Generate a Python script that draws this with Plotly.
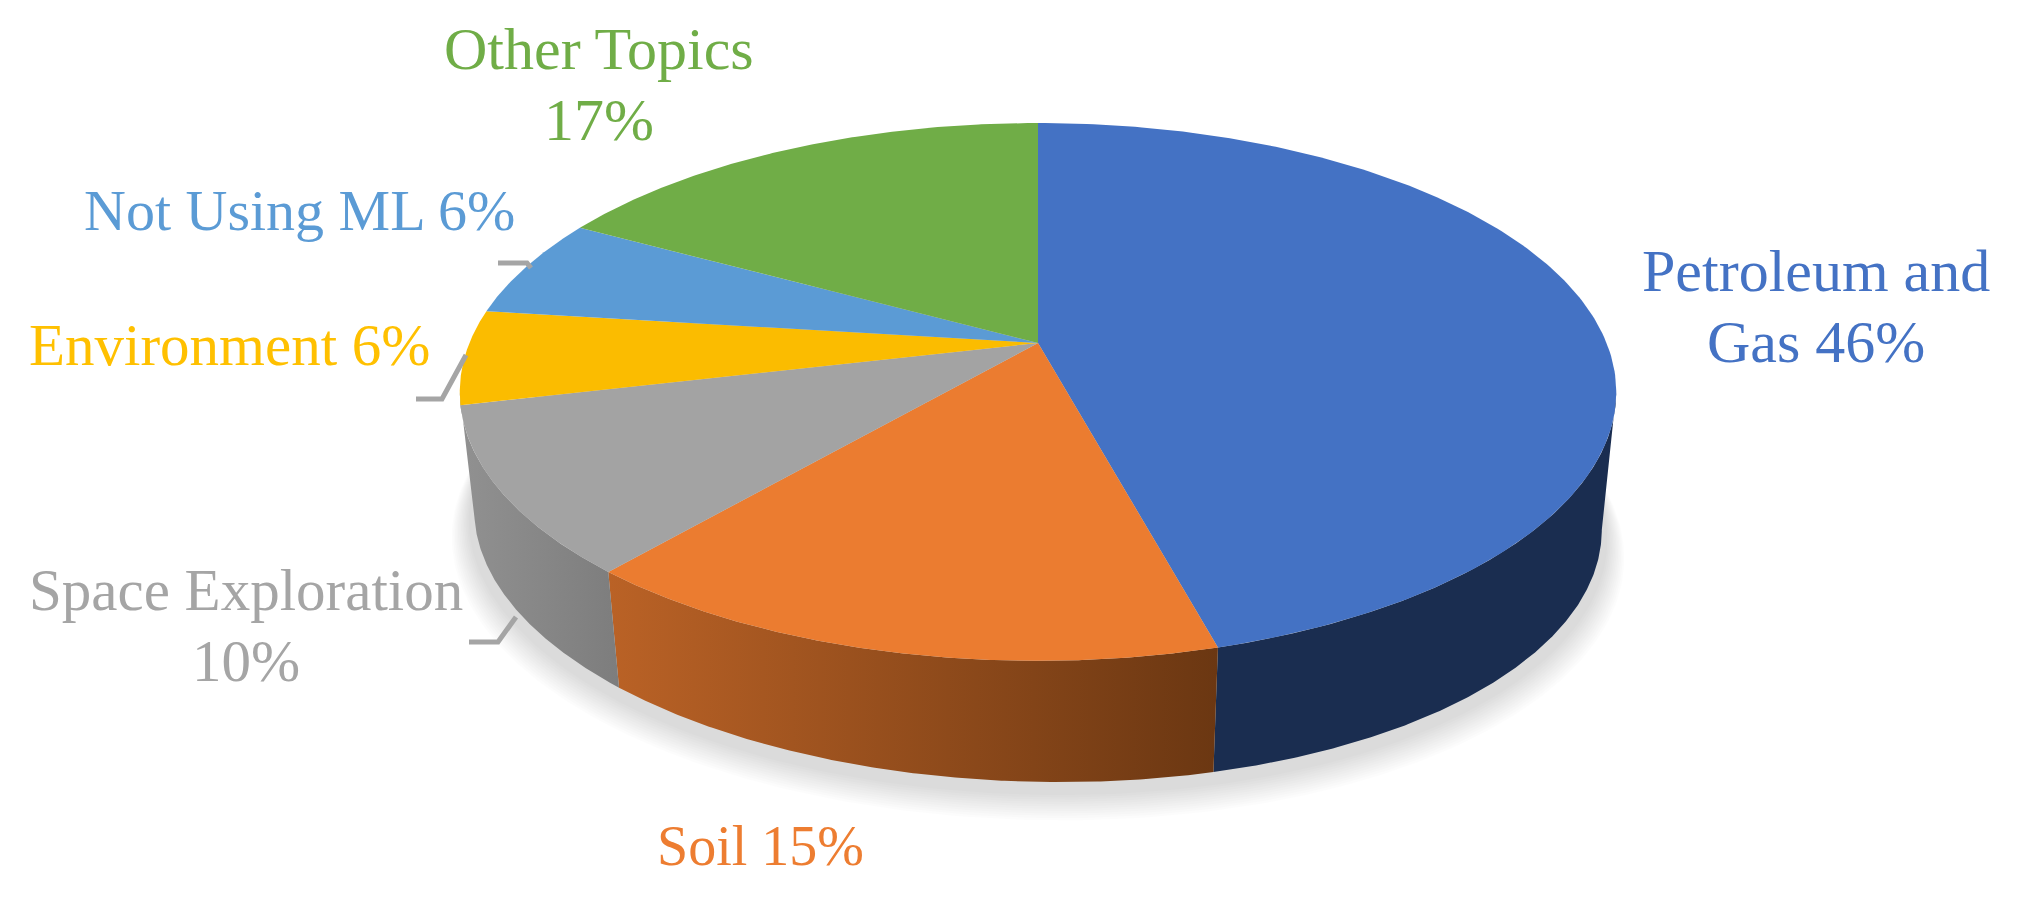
#!/usr/bin/python3
# -*- coding: utf-8 -*-

import numpy as np
import plotly.graph_objs as go

# data
categories = ['Petroleum and<br>Gas 46%', 'Soil 15%', 'Space Exploration<br>10%',
              'Environment 6%', 'Not Using ML 6%', 'Other Topics<br>17%']
values = [45.8, 15.49, 10.03, 5.68, 6, 17]

# styles
top_colors = ['#4472C4', '#EB7C30', '#A3A3A3', '#FBBC00', '#5B9BD5', '#70AD47']
text_colors = ['#4472C4', '#ED7D31', '#A5A5A5', '#FFC000', '#5B9BD5', '#70AD47']
side_colors = [('#1A2D50', '#1A2D50'), ('#BA6226', '#6B3712'), ('#919191', '#7D7D7D')]
label_x = [1816, 760, 246, 229, 299, 599]
label_y = [306, 846, 625, 345, 210, 84]
label_size = [60, 56, 59, 59, 58, 60]
LINE_GAP = 71
leaders = [([498, 527, 531], [263, 263, 268]),
           ([416, 442, 466], [399, 399, 355]),
           ([469, 498, 516], [642, 642, 617])]

# pie projection, in page pixels
CX, CY = 1038, 343
RX, RY = 568.6, 260
PERSP = 0.182
DEPTH = 129
LEAN = 0.018  # the lower disc sits a little deeper on the right
BOTTOM_SCALE = 0.975
# the rim silhouette touches the discs where cos(theta) == -PERSP
RIM_FROM, RIM_TO = 100.5, 259.5


def project(theta, scale=1.0, dy=0.0):
    """
    :param theta: array, degrees clockwise from 12 o'clock
    :rtype: tuple of arrays
    """
    t = np.radians(theta)
    w = 1 + PERSP * np.cos(t)
    x = CX + scale * RX * np.sin(t) / w
    y = CY + dy - scale * RY * np.cos(t) / w
    if dy:
        y = y + LEAN * (x - CX)
    return x, y


def fill_trace(x, y, color=None, gradient=None):
    trace = dict(x=x, y=y, mode='lines', fill='toself', line=dict(width=0),
                 hoverinfo='skip', showlegend=False)
    if gradient:
        trace['fillgradient'] = dict(type='horizontal',
                                     colorscale=[[0, gradient[0]], [1, gradient[1]]])
    else:
        trace['fillcolor'] = color
    return go.Scatter(**trace)


def main():
    fig = go.Figure()
    edges = np.concatenate([[0], np.cumsum(values)]) / sum(values) * 360
    circle = np.linspace(0, 360, 361)

    # soft shadow under the pie
    for i in range(12):
        f = i / 11
        x, y = project(circle, BOTTOM_SCALE * (1.04 - 0.03 * f), DEPTH + 26 - 16 * f)
        fig.add_trace(fill_trace(x, y, color='rgba(0,0,0,0.011)'))

    # rim of the front slices
    for i, colors in enumerate(side_colors):
        start = max(edges[i], RIM_FROM)
        end = RIM_TO if i == len(side_colors) - 1 else edges[i + 1]
        arc = np.linspace(start, end, 200)
        x_top, y_top = project(arc)
        x_bot, y_bot = project(arc[::-1], BOTTOM_SCALE, DEPTH)
        x = np.concatenate([x_top, x_bot, x_top[:1]])
        y = np.concatenate([y_top, y_bot, y_top[:1]])
        fig.add_trace(fill_trace(x, y, gradient=colors))

    # top face
    for i, color in enumerate(top_colors):
        arc = np.linspace(edges[i], edges[i + 1], 200)
        x, y = project(arc)
        fig.add_trace(fill_trace(np.concatenate([[CX], x, [CX]]),
                                 np.concatenate([[CY], y, [CY]]), color=color))

    # leader lines
    for x, y in leaders:
        fig.add_trace(go.Scatter(x=x, y=y, mode='lines', hoverinfo='skip', showlegend=False,
                                 line=dict(color='#A5A5A5', width=5)))

    # labels, line by line to keep the original leading
    for text, color, x, y, size in zip(categories, text_colors, label_x, label_y, label_size):
        lines = text.split('<br>')
        for n, line in enumerate(lines):
            fig.add_annotation(x=x, y=y + (n - (len(lines) - 1) / 2) * LINE_GAP, text=line,
                               showarrow=False, xanchor='center', yanchor='middle',
                               font=dict(family='Liberation Serif', size=size, color=color))

    fig.update_layout(
        width=2020, height=912,
        margin=dict(l=0, r=0, t=0, b=0),
        paper_bgcolor='white', plot_bgcolor='white',
        xaxis=dict(range=[0, 2020], visible=False, fixedrange=True),
        yaxis=dict(range=[912, 0], visible=False, fixedrange=True),
    )
    fig.write_html("out.html", config={'displayModeBar': False},
                   post_script="document.body.style.margin='0';document.body.style.overflow='hidden';")


if __name__ == "__main__":
    main()
